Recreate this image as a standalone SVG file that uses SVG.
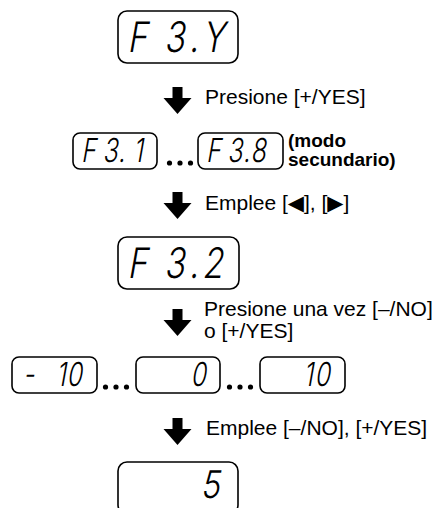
<svg xmlns="http://www.w3.org/2000/svg" width="439" height="508" viewBox="0 0 439 508">
  <style>
    .box { fill: #fff; stroke: #000; stroke-width: 1.6; }
    .lcd { font-family: Inter, "DejaVu Sans", sans-serif; font-weight: 300; fill: #000; }
    .lcdL { font-size: 42px; }
    .lcdS { font-size: 33px; }
    .lbl { font-family: "Liberation Sans", Arial, "DejaVu Sans", sans-serif; font-size: 21px; fill: #000; }
    .bold { font-family: "Liberation Sans", Arial, sans-serif; font-size: 19px; font-weight: bold; fill: #000; }
    .arrow { fill: #000; }
    .dot { fill: #000; }
  </style>
  <defs>
    <path id="dn" d="M-5,0 H5 V11 H14 L0,27 L-14,11 H-5 Z"/>
  </defs>

  <g id="node-f3y">
    <rect class="box" x="118" y="11" width="120" height="52" rx="9"/>
    <text class="lcd lcdL" transform="translate(130,52) skewX(-10) scale(0.8,1)" x="-3.4 42.5 73.7 90" y="0">F3.Y</text>
  </g>

  <g id="node-f31">
    <rect class="box" x="73" y="133" width="84" height="36" rx="7"/>
    <text class="lcd lcdS" transform="translate(82,162) skewX(-10) scale(0.75,1)" x="-1.4 27.5 48 68" y="0">F3.1</text>
  </g>
  <g id="node-f38">
    <rect class="box" x="198" y="133" width="85" height="36" rx="7"/>
    <text class="lcd lcdS" transform="translate(207,162) skewX(-10) scale(0.75,1)" x="-1.4 27 48 58" y="0">F3.8</text>
  </g>
  <g id="note-modo">
    <text class="bold" x="288" y="147">(modo</text>
    <text class="bold" x="288" y="166">secundario)</text>
  </g>

  <g id="node-f32">
    <rect class="box" x="118" y="237" width="121" height="52" rx="9"/>
    <text class="lcd lcdL" transform="translate(130,278) skewX(-10) scale(0.8,1)" x="-3.4 42.5 73.7 90" y="0">F3.2</text>
  </g>

  <g id="node-m10">
    <rect class="box" x="12" y="357" width="85" height="36" rx="7"/>
    <text class="lcd lcdS" transform="translate(23,386) skewX(-10) scale(0.75,1)" x="0 44 58" y="0">-10</text>
  </g>
  <g id="node-0">
    <rect class="box" x="136" y="357" width="84" height="36" rx="7"/>
    <text class="lcd lcdS" transform="translate(192,386) skewX(-10) scale(0.75,1)" x="-2" y="0">0</text>
  </g>
  <g id="node-10">
    <rect class="box" x="260" y="357" width="85" height="36" rx="7"/>
    <text class="lcd lcdS" transform="translate(316,386) skewX(-10) scale(0.75,1)" x="-17 -2" y="0">10</text>
  </g>

  <g id="node-5">
    <rect class="box" x="118" y="462" width="120" height="52" rx="9"/>
    <text class="lcd" font-size="38" transform="translate(203,498) skewX(-10) scale(0.85,1)" x="-3" y="0">5</text>
  </g>

  <g id="connectors">
    <use href="#dn" class="arrow" x="177.5" y="87"/>
    <use href="#dn" class="arrow" x="177.5" y="192"/>
    <use href="#dn" class="arrow" x="177.5" y="309"/>
    <use href="#dn" class="arrow" x="177.5" y="418"/>
    <g id="ellipses">
      <circle class="dot" cx="169.5" cy="163" r="2.6"/>
      <circle class="dot" cx="180" cy="163" r="2.6"/>
      <circle class="dot" cx="190.5" cy="163" r="2.6"/>
      <circle class="dot" cx="105.5" cy="387" r="2.6"/>
      <circle class="dot" cx="116" cy="387" r="2.6"/>
      <circle class="dot" cx="126.5" cy="387" r="2.6"/>
      <circle class="dot" cx="229.5" cy="387" r="2.6"/>
      <circle class="dot" cx="240" cy="387" r="2.6"/>
      <circle class="dot" cx="250.5" cy="387" r="2.6"/>
    </g>
  </g>

  <g id="labels">
    <text class="lbl" x="205" y="104">Presione [+/YES]</text>
    <text class="lbl" x="205" y="210">Emplee [◀], [▶]</text>
    <text class="lbl" x="204" y="316">Presione una vez [–/NO]</text>
    <text class="lbl" x="204" y="338">o [+/YES]</text>
    <text class="lbl" x="206" y="435">Emplee [–/NO], [+/YES]</text>
  </g>
</svg>
